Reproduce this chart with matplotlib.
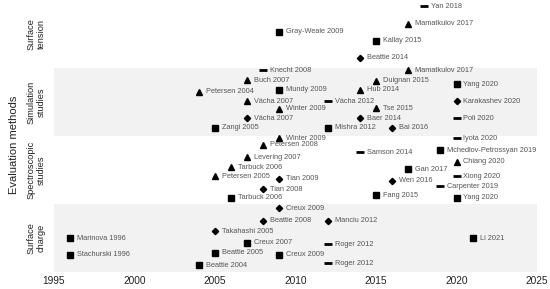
import matplotlib.pyplot as plt

plt.rcParams['font.family'] = ['Liberation Sans', 'DejaVu Sans']

groups = ['Surface charge', 'Spectroscopic studies', 'Simulation studies', 'Surface tension']
group_labels = ['Surface\ncharge', 'Spectroscopic\nstudies', 'Simulation\nstudies', 'Surface\ntension']

# one entry per study: label, year, vertical position, marker kind
labels = [
    'Yan 2018', 'Mamatkulov 2017', 'Gray-Weale 2009', 'Kallay 2015', 'Beattie 2014',
    'Knecht 2008', 'Mamatkulov 2017', 'Buch 2007', 'Duignan 2015', 'Yang 2020',
    'Petersen 2004', 'Mundy 2009', 'Hub 2014', 'Vácha 2007', 'Vácha 2012',
    'Karakashev 2020', 'Winter 2009', 'Tse 2015', 'Vácha 2007', 'Baer 2014',
    'Poli 2020', 'Zangi 2005', 'Mishra 2012', 'Bai 2016',
    'Winter 2009', 'Iyota 2020', 'Petersen 2008', 'Mchedlov-Petrossyan 2019',
    'Samson 2014', 'Levering 2007', 'Chiang 2020', 'Tarbuck 2006', 'Gan 2017',
    'Xiong 2020', 'Petersen 2005', 'Tian 2009', 'Wen 2016', 'Carpenter 2019',
    'Tian 2008', 'Fang 2015', 'Tarbuck 2006', 'Yang 2020',
    'Creux 2009', 'Beattie 2008', 'Manciu 2012', 'Takahashi 2005', 'Marinova 1996',
    'Li 2021', 'Creux 2007', 'Roger 2012', 'Stachurski 1996', 'Beattie 2005',
    'Creux 2009', 'Roger 2012', 'Beattie 2004',
]
years = [
    2018, 2017, 2009, 2015, 2014,
    2008, 2017, 2007, 2015, 2020,
    2004, 2009, 2014, 2007, 2012,
    2020, 2009, 2015, 2007, 2014,
    2020, 2005, 2012, 2016,
    2009, 2020, 2008, 2019,
    2014, 2007, 2020, 2006, 2017,
    2020, 2005, 2009, 2016, 2019,
    2008, 2015, 2006, 2020,
    2009, 2008, 2012, 2005, 1996,
    2021, 2007, 2012, 1996, 2005,
    2009, 2012, 2004,
]
ypos = [
    3.91, 3.65, 3.53, 3.40, 3.15,
    2.97, 2.97, 2.82, 2.81, 2.76,
    2.65, 2.68, 2.68, 2.51, 2.51,
    2.51, 2.40, 2.41, 2.26, 2.26,
    2.26, 2.12, 2.12, 2.12,
    1.97, 1.97, 1.87, 1.79,
    1.76, 1.69, 1.62, 1.54, 1.51,
    1.41, 1.41, 1.37, 1.34, 1.26,
    1.22, 1.13, 1.09, 1.09,
    0.94, 0.75, 0.75, 0.60, 0.50,
    0.50, 0.43, 0.41, 0.25, 0.28,
    0.25, 0.13, 0.10,
]
kinds = [
    'dash', 'tri', 'sq', 'sq', 'dia',
    'dash', 'tri', 'tri', 'tri', 'sq',
    'tri', 'sq', 'tri', 'tri', 'dash',
    'dia', 'tri', 'tri', 'dia', 'dia',
    'dash', 'sq', 'sq', 'dia',
    'tri', 'dash', 'tri', 'sq',
    'dash', 'tri', 'tri', 'tri', 'sq',
    'dash', 'tri', 'dia', 'dia', 'dash',
    'dia', 'sq', 'sq', 'sq',
    'dia', 'dia', 'dia', 'dia', 'sq',
    'sq', 'sq', 'dash', 'sq', 'sq',
    'sq', 'dash', 'sq',
]

marker_style = {
    'sq': dict(marker='s', markersize=3.8),
    'tri': dict(marker='^', markersize=4.2),
    'dia': dict(marker='D', markersize=3.2),
    'dash': dict(marker='_', markersize=5.5, markeredgewidth=2),
}

fig = plt.figure(figsize=(5.5, 2.89), dpi=100)
ax = fig.add_axes([54 / 550, 17 / 289, 483 / 550, 272 / 289])

# alternating background bands
for i in range(len(groups)):
    if i % 2 == 0:
        ax.axhspan(i, i + 1, color='#f2f2f2', lw=0, zorder=0)

for lab, yr, y, k in zip(labels, years, ypos, kinds):
    ax.plot(yr, y, linestyle='none', color='black', zorder=3, **marker_style[k])
    ax.annotate(lab, (yr, y), xytext=(5, 0), textcoords='offset points',
                fontsize=5.3, color='#555555', va='center', ha='left')

for i, gl in enumerate(group_labels):
    ax.text(-0.037, i + 0.5, gl, transform=ax.get_yaxis_transform(),
            rotation=90, ha='center', va='center', fontsize=6.7,
            color='#222222', linespacing=1.1)

fig.text(14 / 550, 0.5, 'Evaluation methods', rotation=90, ha='center',
         va='center', fontsize=8, color='#222222')

ax.set_xlim(1995, 2025)
ax.set_ylim(0, 4)
ax.set_xticks([1995, 2000, 2005, 2010, 2015, 2020, 2025])
ax.tick_params(axis='x', length=0, labelsize=7.3, colors='#222222', pad=3)
ax.set_yticks([])
for s in ax.spines.values():
    s.set_visible(False)

fig.savefig('out.png', dpi=100)
